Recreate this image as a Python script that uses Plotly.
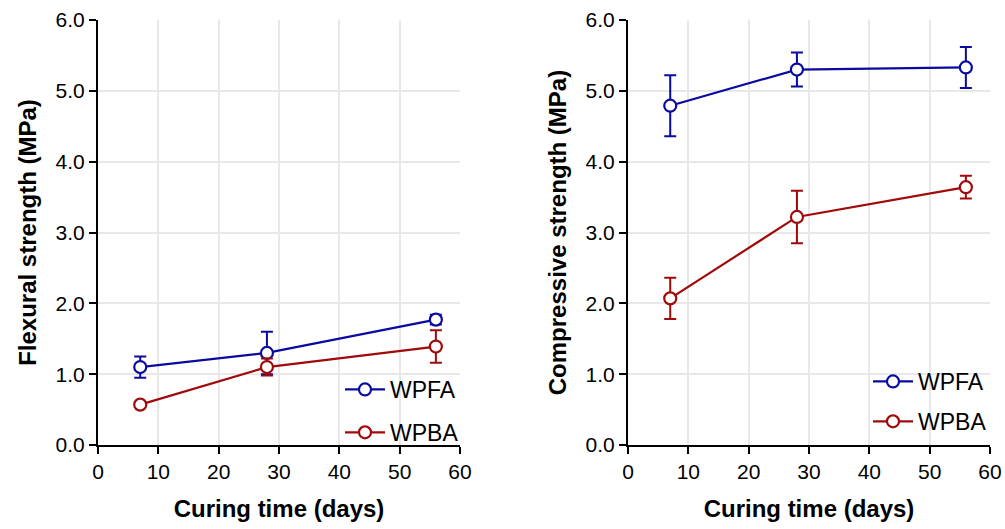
import plotly.graph_objects as go

days = [7, 28, 56]

flex_wpfa = [1.10, 1.30, 1.77]
flex_wpfa_err = [0.15, 0.30, 0.07]
flex_wpba = [0.57, 1.10, 1.39]
flex_wpba_err = [0.03, 0.12, 0.23]

comp_wpfa = [4.79, 5.30, 5.33]
comp_wpfa_err = [0.43, 0.24, 0.29]
comp_wpba = [2.07, 3.22, 3.64]
comp_wpba_err = [0.29, 0.37, 0.16]

BLUE = "#0a0aa0"
RED = "#a00a0a"
FONT = "Liberation Sans"

fig = go.Figure()

def add(x, y, err, name, color, xa, ya, legend, group):
    fig.add_trace(go.Scatter(
        x=x, y=y, name=name, mode="lines+markers",
        line=dict(color=color, width=2.2),
        marker=dict(symbol="circle", size=12, color="white",
                    line=dict(color=color, width=2.2)),
        error_y=dict(type="data", array=err, visible=True, color=color,
                     thickness=2, width=6),
        xaxis=xa, yaxis=ya, legend=legend, legendgroup=group,
    ))

add(days, flex_wpfa, flex_wpfa_err, "WPFA", BLUE, "x", "y", "legend", "a")
add(days, flex_wpba, flex_wpba_err, "WPBA", RED, "x", "y", "legend", "b")
add(days, comp_wpfa, comp_wpfa_err, "WPFA", BLUE, "x2", "y2", "legend2", "c")
add(days, comp_wpba, comp_wpba_err, "WPBA", RED, "x2", "y2", "legend2", "d")

ydom = [84 / 529, 509 / 529]
xcommon = dict(range=[0, 60], dtick=10, showline=True, linecolor="black",
               linewidth=2, ticks="outside", ticklen=7, tickwidth=2,
               tickcolor="black", showgrid=True, gridcolor="#e8e8e8",
               gridwidth=1.5, zeroline=False, automargin=False,
               tickfont=dict(size=21, color="black", family=FONT),
               title=dict(text="<b>Curing time (days)</b>", standoff=18,
                          font=dict(size=24, color="black", family=FONT)))
ycommon = dict(range=[0, 6], dtick=1, tickformat=".1f", showline=True,
               linecolor="black", linewidth=2, ticks="outside", ticklen=7,
               tickwidth=2, tickcolor="black", showgrid=True,
               gridcolor="#e8e8e8", gridwidth=1.5, zeroline=False,
               automargin=False, domain=ydom,
               tickfont=dict(size=21, color="black", family=FONT))

fig.update_layout(
    width=1005, height=529,
    margin=dict(l=0, r=0, t=0, b=0),
    paper_bgcolor="white", plot_bgcolor="white",
    font=dict(family=FONT, color="black"),
    xaxis=dict(domain=[98 / 1005, 460 / 1005], anchor="y", **xcommon),
    yaxis=dict(anchor="x",
               title=dict(text="<b>Flexural strength (MPa)</b>", standoff=12,
                          font=dict(size=24, color="black", family=FONT)),
               **ycommon),
    xaxis2=dict(domain=[628 / 1005, 990 / 1005], anchor="y2", **xcommon),
    yaxis2=dict(anchor="x2",
                title=dict(text="<b>Compressive strength (MPa)</b>", standoff=12,
                           font=dict(size=24, color="black", family=FONT)),
                **ycommon),
    legend=dict(x=464 / 1005, xanchor="right", y=1 - 368 / 529, yanchor="top",
                bgcolor="rgba(0,0,0,0)", tracegroupgap=10,
                font=dict(size=23, color="black", family=FONT),
                itemwidth=40),
    legend2=dict(x=992 / 1005, xanchor="right", y=1 - 360 / 529, yanchor="top",
                 bgcolor="rgba(0,0,0,0)", tracegroupgap=7,
                 font=dict(size=23, color="black", family=FONT),
                 itemwidth=40),
)

fig.write_html("out.html")
